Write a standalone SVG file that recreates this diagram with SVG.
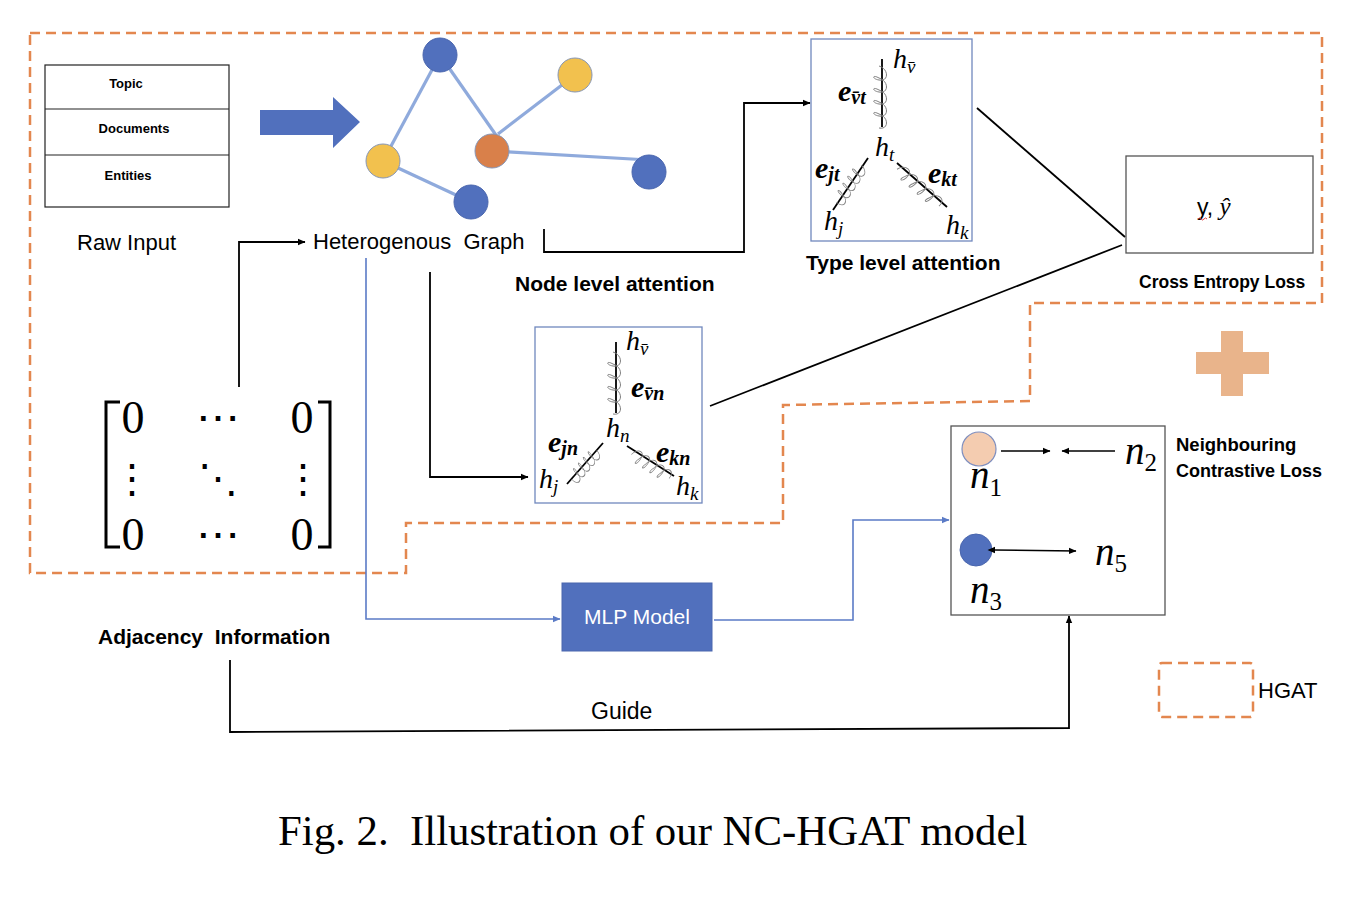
<svg xmlns="http://www.w3.org/2000/svg" xmlns:xlink="http://www.w3.org/1999/xlink" width="1352" height="902" viewBox="0 0 1352 902">
<style>
.sans{font-family:"Liberation Sans",Arial,sans-serif;fill:#000}
.b{font-weight:bold}
.m{font-family:"Liberation Serif","DejaVu Serif","Times New Roman",serif;font-style:italic;fill:#000}
.mb{font-family:"Liberation Serif","DejaVu Serif","Times New Roman",serif;font-style:italic;font-weight:bold;fill:#000}
.ln{stroke:#000;stroke-width:1.8;fill:none}
.bl{stroke:#5B7BC6;stroke-width:1.6;fill:none}
.dash{stroke:#E3874F;stroke-width:2.5;stroke-dasharray:10 6;fill:none}
.edge{stroke:#8FAADC;stroke-width:3.2;fill:none}
.nb{fill:#5170BD;stroke:#4A66AE;stroke-width:1}
.ny{fill:#F2C14E;stroke:#8596B8;stroke-width:1}
.no{fill:#D9804A;stroke:#8596B8;stroke-width:1}
.box{fill:#fff;stroke:#555;stroke-width:1.3}
.abox{fill:#fff;stroke:#7088BE;stroke-width:1.3}
.sq{stroke:#808080;stroke-width:1;fill:none}
.st{stroke:#000;stroke-width:1.8}
</style>
<defs>
<marker id="ab" markerWidth="8" markerHeight="8" refX="7" refY="4" orient="auto" markerUnits="userSpaceOnUse"><path d="M0,0.8 L7.5,4 L0,7.2 Z" fill="#000"/></marker>
<marker id="abs" markerWidth="8" markerHeight="8" refX="1" refY="4" orient="auto-start-reverse" markerUnits="userSpaceOnUse"><path d="M0,0.8 L7.5,4 L0,7.2 Z" fill="#000"/></marker>
<marker id="au" markerWidth="8" markerHeight="8" refX="7" refY="4" orient="auto" markerUnits="userSpaceOnUse"><path d="M0,0.8 L7.5,4 L0,7.2 Z" fill="#5B7BC6"/></marker>
<path id="sq" d="M0,3 c3,-10 16,-10 14,0 c-1,7 -6,7 -2,0 c3,-10 16,-10 14,0 c-1,7 -6,7 -2,0 c3,-10 16,-10 14,0 c-1,7 -6,7 -2,0 c3,-10 16,-10 14,0 c-1,7 -6,7 -2,0 c3,-10 16,-10 14,0"/>
</defs>
<rect width="1352" height="902" fill="#fff"/>

<!-- HGAT dashed region -->
<path class="dash" d="M30,33 H1322 V303 H1030 V401 L783,405 V523 H406 V573 H30 Z"/>

<g id="raw-input">
<rect x="45" y="65" width="184" height="142" fill="#fff" stroke="#222" stroke-width="1.2"/>
<line x1="45" y1="109" x2="229" y2="109" stroke="#222" stroke-width="1.2"/>
<line x1="45" y1="155" x2="229" y2="155" stroke="#222" stroke-width="1.2"/>
<text class="sans b" x="126" y="88" font-size="13" text-anchor="middle">Topic</text>
<text class="sans b" x="134" y="133" font-size="13" text-anchor="middle">Documents</text>
<text class="sans b" x="128" y="180" font-size="13" text-anchor="middle">Entities</text>
<text class="sans" x="77" y="250" font-size="22">Raw Input</text>
</g>

<g id="block-arrow">
<polygon points="260,110 333,110 333,97 360,122 333,148 333,135 260,135" fill="#5170BD"/>
</g>

<g id="graph">
<line class="edge" x1="440" y1="55" x2="383" y2="161"/>
<line class="edge" x1="440" y1="55" x2="498" y2="138"/>
<line class="edge" x1="575" y1="75" x2="498" y2="134"/>
<line class="edge" x1="492" y1="151" x2="649" y2="160"/>
<line class="edge" x1="383" y1="161" x2="471" y2="202"/>
<circle class="nb" cx="440" cy="55" r="17"/>
<circle class="ny" cx="575" cy="75" r="17"/>
<circle class="ny" cx="383" cy="161" r="17"/>
<circle class="no" cx="492" cy="151" r="17"/>
<circle class="nb" cx="649" cy="172" r="17"/>
<circle class="nb" cx="471" cy="202" r="17"/>
<text class="sans" x="313" y="249" font-size="22" xml:space="preserve">Heterogenous  Graph</text>
</g>

<g id="node-level-label">
<text class="sans b" x="515" y="291" font-size="21">Node level attention</text>
</g>

<g id="type-level">
<rect class="abox" x="811" y="39" width="161" height="202"/>
<line class="st" x1="882" y1="59" x2="882" y2="127"/>
<use xlink:href="#sq" class="sq" transform="translate(882,66) rotate(90)"/>
<line class="st" x1="868" y1="158" x2="833" y2="210"/>
<use xlink:href="#sq" class="sq" transform="translate(864,167) rotate(124) scale(0.72,1)"/>
<line class="st" x1="897" y1="163" x2="947" y2="207"/>
<use xlink:href="#sq" class="sq" transform="translate(899,167) rotate(41.3) scale(0.9,1)"/>
<text class="m" x="893" y="68" font-size="28">h<tspan font-size="19" dy="5">v̄</tspan></text>
<text class="mb" x="838" y="101" font-size="30">e<tspan font-size="20" dy="3">v̄t</tspan></text>
<text class="m" x="875" y="156" font-size="28">h<tspan font-size="19" dy="5">t</tspan></text>
<text class="mb" x="815" y="178" font-size="30">e<tspan font-size="20" dy="3">jt</tspan></text>
<text class="mb" x="928" y="183" font-size="30">e<tspan font-size="20" dy="3">kt</tspan></text>
<text class="m" x="824" y="230" font-size="28">h<tspan font-size="19" dy="5">j</tspan></text>
<text class="m" x="946" y="234" font-size="28">h<tspan font-size="19" dy="5">k</tspan></text>
<text class="sans b" x="806" y="270" font-size="21">Type level attention</text>
</g>

<g id="node-level">
<rect class="abox" x="535" y="327" width="167" height="176"/>
<line class="st" x1="616" y1="342" x2="616" y2="413"/>
<use xlink:href="#sq" class="sq" transform="translate(616,352) rotate(90)"/>
<line class="st" x1="603" y1="443" x2="567" y2="484"/>
<use xlink:href="#sq" class="sq" transform="translate(599,452) rotate(131) scale(0.62,1)"/>
<line class="st" x1="627" y1="446" x2="674" y2="476"/>
<use xlink:href="#sq" class="sq" transform="translate(633,452) rotate(32.5) scale(0.72,1)"/>
<text class="m" x="626" y="350" font-size="28">h<tspan font-size="19" dy="5">v̄</tspan></text>
<text class="mb" x="631" y="397" font-size="30">e<tspan font-size="20" dy="3">v̄n</tspan></text>
<text class="m" x="606" y="437" font-size="28">h<tspan font-size="19" dy="5">n</tspan></text>
<text class="mb" x="548" y="452" font-size="30">e<tspan font-size="20" dy="3">jn</tspan></text>
<text class="mb" x="656" y="462" font-size="30">e<tspan font-size="20" dy="3">kn</tspan></text>
<text class="m" x="539" y="488" font-size="28">h<tspan font-size="19" dy="5">j</tspan></text>
<text class="m" x="676" y="495" font-size="28">h<tspan font-size="19" dy="5">k</tspan></text>
</g>

<g id="cross-entropy">
<rect class="box" x="1126" y="156" width="187" height="97"/>
<text class="sans" x="1197" y="215" font-size="23">y, <tspan class="m" font-size="25">ŷ</tspan></text>
<path d="M1198,219 q1.5,-2 3,0 t3,0 t3,0" stroke="#E04040" stroke-width="1" fill="none"/>
<text class="sans b" x="1139" y="288" font-size="17.5">Cross Entropy Loss</text>
</g>

<g id="plus">
<rect x="1221" y="331" width="22" height="65" fill="#E9B48B"/>
<rect x="1196" y="352" width="73" height="22" fill="#E9B48B"/>
</g>

<g id="contrastive">
<rect class="box" x="951" y="426" width="214" height="189"/>
<circle cx="979" cy="449" r="17" fill="#F4CCB0" stroke="#7F8FBF" stroke-width="1.2"/>
<circle cx="976" cy="550" r="16" fill="#5170BD" stroke="#4A66AE" stroke-width="1"/>
<line x1="1001" y1="451" x2="1050" y2="451" stroke="#000" stroke-width="1.6" marker-end="url(#ab)"/>
<line x1="1115" y1="451" x2="1062" y2="451" stroke="#000" stroke-width="1.6" marker-end="url(#ab)"/>
<line x1="994" y1="550" x2="1076" y2="551" stroke="#000" stroke-width="1.6" marker-start="url(#abs)" marker-end="url(#ab)"/>
<text class="m" x="970" y="488" font-size="39">n<tspan font-style="normal" font-size="25" dy="8">1</tspan></text>
<text class="m" x="1125" y="464" font-size="39">n<tspan font-style="normal" font-size="25" dy="7">2</tspan></text>
<text class="m" x="1095" y="565" font-size="39">n<tspan font-style="normal" font-size="25" dy="7">5</tspan></text>
<text class="m" x="970" y="603" font-size="39">n<tspan font-style="normal" font-size="25" dy="7">3</tspan></text>
<text class="sans b" x="1176" y="451" font-size="18.5">Neighbouring</text>
<text class="sans b" x="1176" y="477" font-size="18">Contrastive Loss</text>
</g>

<g id="matrix">
<path d="M120,402 H106 V547 H120" stroke="#000" stroke-width="3" fill="none"/>
<path d="M318,402 H330 V547 H318" stroke="#000" stroke-width="3" fill="none"/>
<text x="133" y="433" font-family="Liberation Serif,serif" font-size="46" text-anchor="middle">0</text>
<text x="302" y="433" font-family="Liberation Serif,serif" font-size="46" text-anchor="middle">0</text>
<text x="133" y="550" font-family="Liberation Serif,serif" font-size="46" text-anchor="middle">0</text>
<text x="302" y="550" font-family="Liberation Serif,serif" font-size="46" text-anchor="middle">0</text>
<text x="218" y="432" font-family="DejaVu Serif,serif" font-size="44" text-anchor="middle">⋯</text>
<text x="218" y="549" font-family="DejaVu Serif,serif" font-size="44" text-anchor="middle">⋯</text>
<text x="132" y="492" font-family="DejaVu Serif,serif" font-size="40" text-anchor="middle">⋮</text>
<text x="303" y="492" font-family="DejaVu Serif,serif" font-size="40" text-anchor="middle">⋮</text>
<text x="218" y="492" font-family="DejaVu Serif,serif" font-size="40" text-anchor="middle">⋱</text>
<text class="sans b" x="98" y="644" font-size="21" xml:space="preserve">Adjacency  Information</text>
</g>

<g id="mlp">
<rect x="562" y="583" width="150" height="68" fill="#5170BD" stroke="#4A66AE" stroke-width="1"/>
<text class="sans" x="637" y="624" font-size="21" text-anchor="middle" style="fill:#fff">MLP Model</text>
</g>

<g id="legend">
<rect class="dash" x="1159" y="663" width="94" height="54" rx="3"/>
<text class="sans" x="1258" y="698" font-size="22">HGAT</text>
</g>

<g id="connectors">
<path class="ln" d="M239,387 V242 H305" marker-end="url(#ab)"/>
<path class="ln" d="M544,229 V252 H744 V103 H810" marker-end="url(#ab)"/>
<path class="ln" d="M430,272 V477 H528" marker-end="url(#ab)"/>
<path class="bl" d="M366,258 V619 H560" marker-end="url(#au)"/>
<path class="bl" d="M714,620 H853 V520 H949" marker-end="url(#au)"/>
<line class="ln" x1="977" y1="108" x2="1125" y2="237"/>
<line class="ln" x1="710" y1="406" x2="1122" y2="245"/>
<path class="ln" d="M230,660 V732 L1069,728 V616" marker-end="url(#ab)"/>
<text class="sans" x="591" y="719" font-size="23">Guide</text>
</g>

<text x="278" y="845" font-family="Liberation Serif,'Times New Roman',serif" font-size="42.8" xml:space="preserve">Fig. 2.  Illustration of our NC-HGAT model</text>
</svg>
